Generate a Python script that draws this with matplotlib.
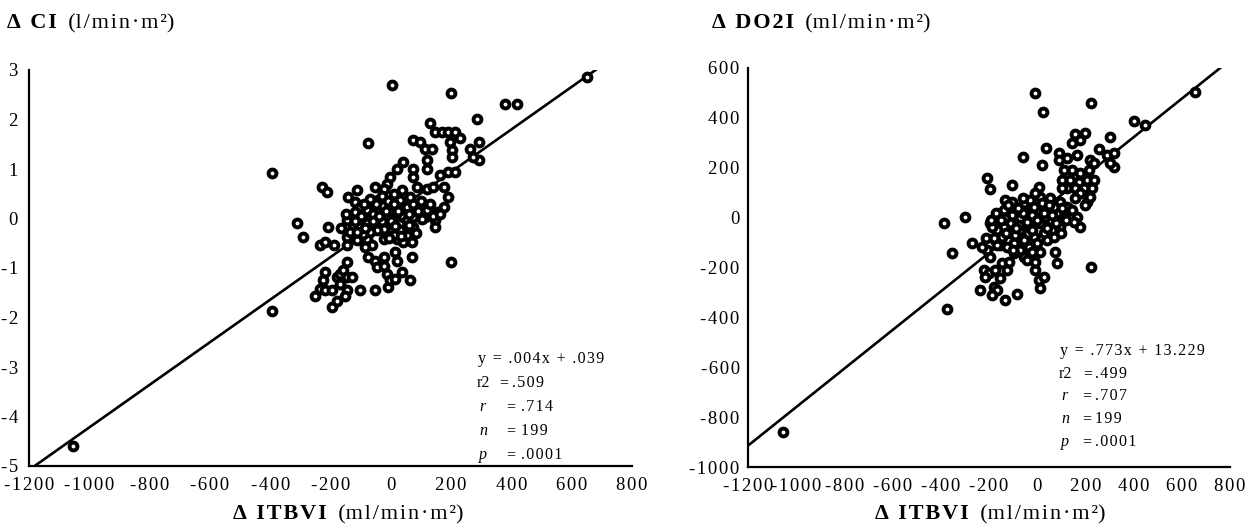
import matplotlib
matplotlib.use("Agg")
import matplotlib.pyplot as plt
import numpy as np

# ---------------- data ----------------
# Left panel: dITBVI vs dCI
ci_x = [3, 199, 379, 418, 287, 130, -76, -395, 147, 169, 191, 213, 230, 75, 97, 114, 136,
        197, 202, 202, 263, 291, 291, 274, 119, 119, 42, 20, 75, 75, 164, 191, 213, -2, -13, -24,
        -229, -212, -52, -113, -141, -118, 119, 141, 175, 86, 191, 175, 153, 147, 147, 108, 114, 75,
        -312, -207, -290, -235, -218, -190, -146, -146, -146,
        -218, -224, -235, -218, -196, -179, -168, -157, -146, -130, -146, -168,
        -251, -196, -179, -152, -102, -52, -8, -395,
        -74, -52, -47, -24, -13, -24, 14, 20, 36, 64, -2, 14, 70, 199,
        -146, -124, -102, -135, -113, -80, -63, -85, 20, 42, 70, 53, 75, 53, -24, -13,
        103, 119, 141, 164, 31, 53, 75, 64, 36, 9,
        -41, -58, -80, -102, -118, -91, -69, -47, -24, -2, -13, -35, -58, -80, 9, 20, 31, 3,
        -24, -47, -69, -91, -113, 42, 53, 75, 59, 31, 9, -41, -13, -58,
        -30, -10, 10, 25, -50, -70, -90, -100, -60, -30, 0, 15, -15, -40, -85, -5, 35, 90, 100,
        130, -120, -150, -165, 60, 85,
        -1055, 650]
ci_y = [2.70, 2.53, 2.32, 2.32, 2.01, 1.93, 1.53, 0.92, 1.75, 1.75, 1.75, 1.75, 1.62, 1.58, 1.55, 1.41, 1.41,
        1.55, 1.38, 1.24, 1.41, 1.55, 1.18, 1.25, 1.18, 1.01, 1.14, 1.01, 1.01, 0.84, 0.87, 0.94, 0.94, 0.84, 0.70, 0.60,
        0.64, 0.54, 0.64, 0.57, 0.44, 0.33, 0.60, 0.64, 0.64, 0.64, 0.44, 0.23, 0.13, -0.04, -0.17, 0.23, 0.03, 0.06,
        -0.10, -0.17, -0.38, -0.54, -0.48, -0.54, -0.38, -0.54, -0.88,
        -1.08, -1.25, -1.42, -1.45, -1.45, -1.18, -1.12, -1.05, -1.18, -1.18, -1.45, -1.32,
        -1.56, -1.79, -1.66, -1.56, -1.45, -1.45, -1.39, -1.86,
        -0.78, -0.85, -0.98, -0.95, -1.12, -0.78, -0.68, -0.85, -1.08, -1.25, -1.25, -1.22, -0.78, -0.87,
        -0.04, -0.14, -0.17, -0.27, -0.44, -0.41, -0.54, -0.58, -0.41, -0.48, -0.48, -0.34, -0.17, -0.20, -0.41, -0.31,
        0.00, 0.17, 0.06, 0.10, 0.37, 0.23, 0.30, 0.44, 0.57, 0.50,
        0.37, 0.23, 0.17, 0.23, 0.13, 0.03, 0.03, 0.00, 0.10, 0.20, -0.10, -0.17, -0.10, -0.10, 0.03, 0.13, -0.10, -0.24,
        -0.21, -0.24, -0.27, -0.31, -0.27, 0.03, -0.04, 0.03, -0.14, -0.24, -0.34, 0.13, 0.03, 0.10,
        0.45, 0.35, 0.30, 0.15, 0.30, 0.40, 0.30, 0.05, -0.05, -0.05, -0.05, -0.15, 0.15, 0.05, -0.20, -0.40, -0.35,
        0.15, 0.35, 0.30, -0.05, 0.10, -0.20, 0.10, -0.30,
        -4.60, 2.85]

# Right panel: dITBVI vs dDO2I
do_x = [-8, 223, 23, 403, 449, 303, 155, 200, 179, 144, 38, -59, 20, 92, 124, 165, 89,
        255, 289, 317, 220, 234, 317, 303, -208, -195, -105, 6,
        110, 144, 179, 213, 103, 137, 172, 206, 234, 124, 158, 193, 227, 103,
        206, 199, 220, 179, 158, -388, -298, -195, -271, -354, -208, -195, -174, -153,
        -222, -201, -215, -174, -146, -118, -125, -153, -236, -181, -167, -188, -132, -84, -374,
        -8, 6, 13, 27, 75, 82, 223,
        -132, -105, -139, -98, -56, -29, 13, 54, 96, 124, 144, 165, 179, 151, 117, 82, 41, -1,
        -42, -70, -112, -139, -167, -146, -112, -70, -29, 13, 54, 96, 61, 27, -15, -56, -98,
        -125, -167, -181, -70, -36, -1, 41, 68, -56, -22, 13, -42, -8, -98, 103, 68, 34, -8,
        -42, -77, -105, -15, 20, -91, -132, -188, -229, -211,
        -60, -80, -120, -20, 0, 30, 60, 80, -40, -90, -150, -100, -20, 40, 100, 120, -60, -10,
        50, -130, -170, -190,
        -1055, 655]
do_y = [501, 461, 425, 389, 371, 322, 334, 341, 311, 298, 278, 244, 211, 258, 238, 251, 231,
        274, 251, 258, 231, 218, 204, 218, 160, 115, 131, 124,
        191, 191, 178, 191, 151, 151, 144, 151, 151, 117, 117, 117, 117, 117,
        64, 51, 84, 97, 77, -23, 4, -23, -100, -140, -130, -156, -90, -110,
        -210, -223, -237, -210, -183, -177, -210, -243, -290, -277, -290, -310, -330, -306, -368,
        -210, -250, -283, -237, -136, -183, -197,
        71, 64, 31, 31, 57, 71, 84, 77, 64, 44, 31, 4, -36, -16, 4, 17, 31, 31,
        17, -3, -23, -36, -50, -76, -63, -50, -36, -23, -9, -36, -50, -63, -76, -90, -103,
        -116, -110, -83, -130, -116, -103, -90, -76, -156, -136, -136, -170, -177, -143, 37, 44, 4, -3,
        -16, -30, 11, 44, 57, -70, -3, -36, -116, -83,
        20, 40, 50, 10, -10, 20, 10, -20, -60, -40, -10, -130, -50, -40, -60, -10, 80, 100,
        50, -60, 20, -10,
        -860, 504]

x_ticks = [-1200, -1000, -800, -600, -400, -200, 0, 200, 400, 600, 800]
ci_ticks = [-5, -4, -3, -2, -1, 0, 1, 2, 3]
do_ticks = [-1000, -800, -600, -400, -200, 0, 200, 400, 600]

ci_fit = (0.0043, 0.08)
do_fit = (0.773, 13.229)

ci_eq = "y = .004x + .039"
do_eq = "y = .773x + 13.229"
ci_stats = [("r2", ".509", False), ("r", ".714", True), ("n", "199", True), ("p", ".0001", True)]
do_stats = [("r2", ".499", False), ("r", ".707", True), ("n", "199", True), ("p", ".0001", True)]

# ---------------- figure ----------------
FONT = "Liberation Serif"
plt.rcParams["font.family"] = [FONT, "DejaVu Serif"]
W, H = 1253, 527
fig = plt.figure(figsize=(W / 100, H / 100), dpi=100)
HS = "\u200a"


def sp(s, sep=HS):
    return sep.join(s)


def fx(px):
    return px / W


def fy(py):
    return 1 - py / H


def panel(rect, xs, ys, yticks, fit, ylim, ypad):
    ax = fig.add_axes(rect)
    ax.set_xlim(-1200, 800)
    ax.set_ylim(*ylim)
    for s in ("top", "right"):
        ax.spines[s].set_visible(False)
    for s in ("left", "bottom"):
        ax.spines[s].set_linewidth(1.6)
    ax.set_xticks(x_ticks)
    ax.set_xticklabels([sp(str(v)) for v in x_ticks])
    ax.set_yticks(yticks)
    ax.set_yticklabels([sp(str(v)) for v in yticks])
    ax.tick_params(axis="x", length=0, pad=8, labelsize=13.5)
    ax.tick_params(axis="y", length=0, pad=ypad, labelsize=13.5)
    xl = np.array([-1300, 900])
    ax.plot(xl, fit[0] * xl + fit[1], color="black", lw=1.9, zorder=2)
    ax.scatter(xs, ys, s=32, facecolor="white", edgecolor="black", linewidths=2.8, zorder=3,
               clip_on=False)
    return ax


axL = panel([fx(29), fy(466), fx(632 - 29), (466 - 70) / H], ci_x, ci_y, ci_ticks, ci_fit, (-5, 3), 8)
axR = panel([fx(748), fy(467), fx(1230 - 748), (467 - 68) / H], do_x, do_y, do_ticks, do_fit, (-1000, 600), 6)

renderer = fig.canvas.get_renderer()


def two_part(x0, y, bold, rest, size=16, center=False):
    t1 = fig.text(0, 0, sp(bold), fontsize=size, fontweight="bold", va="bottom", ha="left")
    t2 = fig.text(0, 0, rest, fontsize=size, va="bottom", ha="left")
    w1 = t1.get_window_extent(renderer).width
    w2 = t2.get_window_extent(renderer).width
    if center:
        x0 = x0 - (w1 + w2) / 2
    t1.set_position((fx(x0), fy(y)))
    t2.set_position((fx(x0 + w1), fy(y)))


two_part(7, 33, "Δ CI", "  (" + sp("l/min·m²") + ")")
two_part(712, 33, "Δ DO2I", "  (" + sp("ml/min·m²") + ")")
two_part(348, 524, "Δ ITBVI", "  (" + sp("ml/min·m²") + ")", center=True)
two_part(990, 524, "Δ ITBVI", "  (" + sp("ml/min·m²") + ")", center=True)


def stats(x0, y0, eq, rows, dy, xeq2, xval2, xeq, xval, size=11.5):
    fig.text(fx(x0), fy(y0), sp(eq), fontsize=size, va="center", ha="left")
    for i, (lab, val, ital) in enumerate(rows):
        yy = y0 + dy * (i + 1)
        if ital:
            lx, ex, vx = x0 + 1, xeq, xval
        else:
            lx, ex, vx = x0 - 1, xeq2, xval2
        fig.text(fx(lx), fy(yy), lab, fontsize=size, va="center", ha="left",
                 style="italic" if ital else "normal")
        fig.text(fx(ex), fy(yy), "=", fontsize=size, va="center", ha="left")
        fig.text(fx(vx), fy(yy), sp(val), fontsize=size, va="center", ha="left")


stats(478, 359, ci_eq, ci_stats, 24, 499, 512, 506, 521)
stats(1060, 351, do_eq, do_stats, 22.7, 1083, 1095, 1082, 1095)

fig.savefig("out.png", dpi=100)
